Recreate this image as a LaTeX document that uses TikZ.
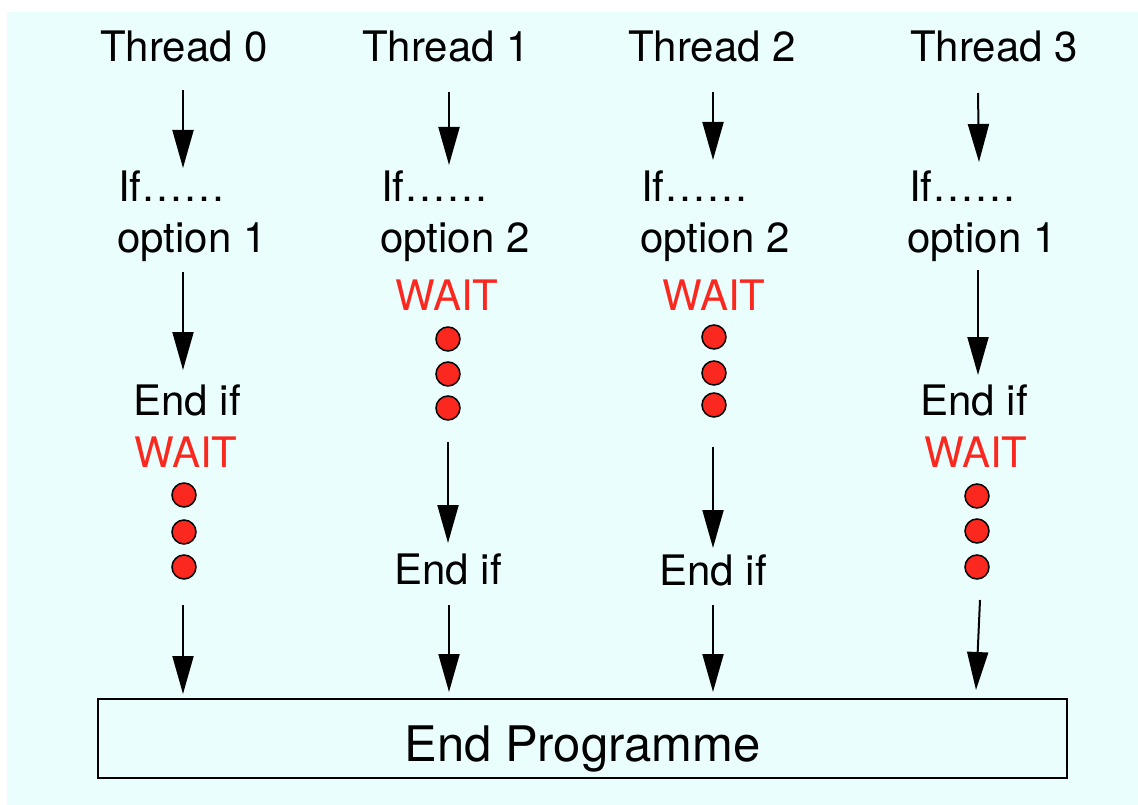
\documentclass[tikz,border=0pt]{standalone}
\usepackage{fontspec}
\setmainfont{TeX Gyre Heros}
\usetikzlibrary{arrows.meta}
\definecolor{bgc}{RGB}{235,254,254}
\definecolor{wred}{RGB}{250,40,30}
\begin{document}
\begin{tikzpicture}[x=1pt,y=-1pt,
  txt/.style={font=\fontsize{42}{50}\selectfont, inner sep=0pt, anchor=base},
  txtl/.style={txt, anchor=base west},
  wait/.style={txt, text=wred},
  dot/.style={circle, draw=black, fill=wred, line width=1.5pt, minimum size=24pt, inner sep=0pt},
  arr/.style={line width=2pt, -{Triangle[length=38pt,width=21pt]}},
  ]
\useasboundingbox (0,0) rectangle (1138,805);
\fill[bgc] (7,12) rectangle (1138,805);

% Thread headers
\node[txt] (t0) at (184,62) {Thread 0};
\node[txt] (t1) at (446,62) {Thread 1};
\node[txt] (t2) at (712,62) {Thread 2};
\node[txt] (t3) at (994,62) {Thread 3};

% If / option
\node[txtl] (if0) at (118,202) {If……};
\node[txtl] (op0) at (117,252) {option 1};
\node[txtl] (if1) at (381,202) {If……};
\node[txtl] (op1) at (380,252) {option 2};
\node[txtl] (if2) at (641,202) {If……};
\node[txtl] (op2) at (640,252) {option 2};
\node[txtl] (if3) at (909,202) {If……};
\node[txtl] (op3) at (907,252) {option 1};

% Column 0
\node[txt] (e0) at (187,415) {End if};
\node[wait] (w0) at (186,467) {WAIT};
\node[dot] (d0a) at (184,495) {};
\node[dot] (d0b) at (184,532) {};
\node[dot] (d0c) at (184,567) {};

% Column 3
\node[txt] (e3) at (974,415) {End if};
\node[wait] (w3) at (976,467) {WAIT};
\node[dot] (d3a) at (977,496) {};
\node[dot] (d3b) at (977,531) {};
\node[dot] (d3c) at (977,567) {};

% Column 1
\node[wait] (w1) at (447,310) {WAIT};
\node[dot] (d1a) at (448,339) {};
\node[dot] (d1b) at (448,374) {};
\node[dot] (d1c) at (448,408) {};
\node[txt] (e1) at (448,584) {End if};

% Column 2
\node[wait] (w2) at (714,310) {WAIT};
\node[dot] (d2a) at (714,337) {};
\node[dot] (d2b) at (714,373) {};
\node[dot] (d2c) at (714,405) {};
\node[txt] (e2) at (713,585) {End if};

% End box
\node[draw, line width=1.5pt, minimum width=969pt, minimum height=79pt, inner sep=0pt,
      font=\fontsize{49}{58}\selectfont, text height=45pt, text depth=0pt] (ep) at (582.5,738.5) {End Programme};

% arrow end points
\coordinate (a0s1) at (183,90);  \coordinate (a0e1) at (183,168);
\coordinate (a0s2) at (183,272); \coordinate (a0e2) at (183,370);
\coordinate (a0s3) at (183,605); \coordinate (a0e3) at (183,694);
\coordinate (a1s1) at (449,92);  \coordinate (a1e1) at (449,165);
\coordinate (a1s2) at (448,442); \coordinate (a1e2) at (448,543);
\coordinate (a1s3) at (449,605); \coordinate (a1e3) at (449,692);
\coordinate (a2s1) at (713,92);  \coordinate (a2e1) at (713,160);
\coordinate (a2s2) at (713,447); \coordinate (a2e2) at (713,548);
\coordinate (a2s3) at (713,605); \coordinate (a2e3) at (713,692);
\coordinate (a3s1) at (978,93);  \coordinate (a3e1) at (979,162);
\coordinate (a3s2) at (978,270); \coordinate (a3e2) at (978,375);
\coordinate (a3s3) at (980,600); \coordinate (a3e3) at (976,690);

\foreach \c in {0,1,2,3}{
  \foreach \k in {1,2,3}{
    \draw[arr] (a\c s\k) -- (a\c e\k);
  }
}
\end{tikzpicture}
\end{document}
